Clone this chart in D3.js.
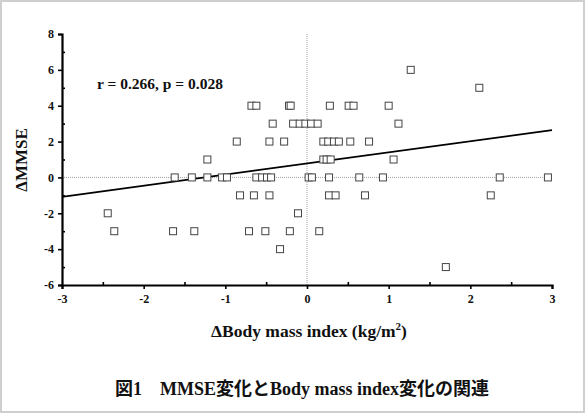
<!DOCTYPE html>
<html>
<head>
<meta charset="utf-8">
<script src="https://cdn.jsdelivr.net/npm/d3@7"></script>
<style>
  body { margin: 0; background: #fff; }
  svg { display: block; }
  text { font-family: "Liberation Serif", "Times New Roman", serif; font-weight: bold; fill: #111; }
</style>
</head>
<body>
<svg id="chart"></svg>
<script>
// delta BMI (x) and delta MMSE (y) for each patient
const bmiChange = [
  1.27,
  2.11,
  -0.68, -0.62, -0.22, -0.20, 0.28, 0.51, 0.57, 1.00,
  -0.42, -0.17, -0.09, -0.02, 0.05, 0.13, 1.12,
  -0.86, -0.46, -0.28, 0.20, 0.26, 0.33, 0.39, 0.53, 0.76,
  -1.22, 0.20, 0.24, 0.29, 1.06,
  -1.62, -1.41, -1.22, -1.04, -0.98, -0.62, -0.55, -0.49, -0.44, 0.02, 0.06, 0.27, 0.64, 0.93, 2.36, 2.95,
  -0.82, -0.65, -0.46, 0.27, 0.35, 0.71, 2.25,
  -2.44, -0.11,
  -2.36, -1.64, -1.38, -0.71, -0.51, -0.21, 0.15,
  -0.33,
  1.70
];
const mmseChange = [
  6,
  5,
  4, 4, 4, 4, 4, 4, 4, 4,
  3, 3, 3, 3, 3, 3, 3,
  2, 2, 2, 2, 2, 2, 2, 2, 2,
  1, 1, 1, 1, 1,
  0, 0, 0, 0, 0, 0, 0, 0, 0, 0, 0, 0, 0, 0, 0, 0,
  -1, -1, -1, -1, -1, -1, -1,
  -2, -2,
  -3, -3, -3, -3, -3, -3, -3,
  -4,
  -5
];

// regression line
const fitSlope = 0.62;
const fitIntercept = 0.78;
const statText = "r = 0.266, p = 0.028";

const xTicks = [-3, -2, -1, 0, 1, 2, 3];
const yTicks = [-6, -4, -2, 0, 2, 4, 6, 8];

const width = 585, height = 413;
const mLeft = 62, mRight = 552, mTop = 34, mBottom = 285;

const svg = d3.select("#chart").attr("width", width).attr("height", height);

// light frame round the picture
svg.append("rect")
  .attr("x", 1).attr("y", 1).attr("width", width - 2).attr("height", height - 2)
  .attr("fill", "#fff").attr("stroke", "#cfcfcf").attr("stroke-width", 2);

const x = d3.scaleLinear().domain([-3, 3]).range([mLeft, mRight]);
const y = d3.scaleLinear().domain([-6, 8]).range([mBottom, mTop]);

// dotted zero lines
svg.append("line")
  .attr("x1", x(-3)).attr("x2", x(3)).attr("y1", y(0)).attr("y2", y(0))
  .attr("stroke", "#888").attr("stroke-width", 0.8).attr("stroke-dasharray", "1,1");
svg.append("line")
  .attr("x1", x(0)).attr("x2", x(0)).attr("y1", y(8)).attr("y2", y(-6))
  .attr("stroke", "#888").attr("stroke-width", 0.8).attr("stroke-dasharray", "1,1");

// axes: major ticks outside, minor ones inside
const xAxis = svg.append("g").attr("transform", `translate(0,${mBottom})`)
  .call(d3.axisBottom(x).tickValues(xTicks).tickSize(4).tickFormat(d => String(d)));
svg.append("g").attr("transform", `translate(0,${mBottom})`)
  .call(d3.axisTop(x).tickValues(d3.range(-2.5, 3, 1)).tickSize(3).tickFormat(""))
  .call(g => g.select(".domain").remove());

const yAxis = svg.append("g").attr("transform", `translate(${mLeft},0)`)
  .call(d3.axisLeft(y).tickValues(yTicks).tickSize(4).tickFormat(d => String(d)));
svg.append("g").attr("transform", `translate(${mLeft},0)`)
  .call(d3.axisRight(y).tickValues(d3.range(-5, 8, 2)).tickSize(3).tickFormat(""))
  .call(g => g.select(".domain").remove());

svg.selectAll(".domain").attr("stroke", "#000").attr("stroke-width", 2.2);
svg.selectAll(".tick line").attr("stroke", "#000").attr("stroke-width", 1.6);
xAxis.selectAll("text").attr("font-size", 12).attr("y", 9);
yAxis.selectAll("text").attr("font-size", 12).attr("x", -8);
svg.selectAll(".tick text").style("font-family", "Liberation Serif").style("font-weight", "bold").attr("fill", "#111");

// regression line
svg.append("line")
  .attr("x1", x(-3)).attr("y1", y(fitIntercept + fitSlope * -3))
  .attr("x2", x(3)).attr("y2", y(fitIntercept + fitSlope * 3))
  .attr("stroke", "#000").attr("stroke-width", 1.8);

// hollow square markers
const s = 7;
svg.append("g").selectAll("rect")
  .data(d3.zip(bmiChange, mmseChange))
  .join("rect")
  .attr("x", d => x(d[0]) - s / 2)
  .attr("y", d => y(d[1]) - s / 2)
  .attr("width", s).attr("height", s)
  .attr("fill", "#fff")
  .attr("stroke", "#444").attr("stroke-width", 1);

svg.append("text")
  .attr("x", 97).attr("y", 89)
  .attr("font-size", 15.5)
  .text(statText);

// axis titles
const xt = svg.append("text")
  .attr("x", (mLeft + mRight) / 2 + 2).attr("y", 337)
  .attr("text-anchor", "middle").attr("font-size", 17.5);
xt.append("tspan").text("\u0394Body mass index (kg/m");
xt.append("tspan").attr("font-size", 11).attr("dy", -7).text("2");
xt.append("tspan").attr("dy", 7).text(")");

svg.append("text")
  .attr("transform", "translate(27,160) rotate(-90)")
  .attr("text-anchor", "middle").attr("font-size", 17)
  .text("\u0394MMSE");

svg.append("text")
  .attr("x", 302).attr("y", 395)
  .attr("text-anchor", "middle").attr("font-size", 18)
  .style("font-family", "'Liberation Serif', 'Noto Sans CJK JP', serif")
  .text("図1　MMSE変化とBody mass index変化の関連");
</script>
</body>
</html>
